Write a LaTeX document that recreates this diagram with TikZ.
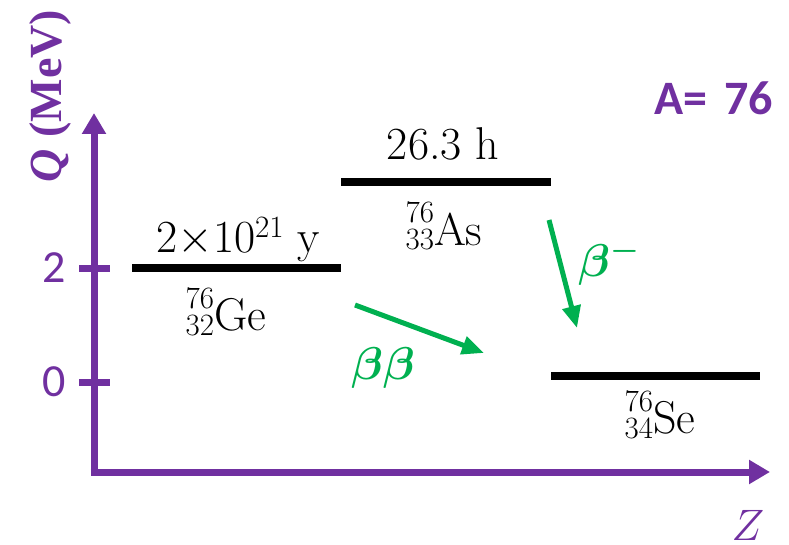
\RequirePackage{fix-cm}
\documentclass[tikz,border=0pt]{standalone}
\usepackage{bm}
\usepackage{fontspec}
\newfontfamily\calibri{Carlito}
\newfontfamily\tnr{Liberation Serif}
\usetikzlibrary{arrows.meta}
\definecolor{vio}{HTML}{7030A0}
\definecolor{grn}{HTML}{00B050}
\newcommand\scr[1]{{\fontsize{31}{31}\selectfont #1}}
\newcommand\isotope[3]{\rlap{\raisebox{22pt}{\scr{#1}}}\raisebox{-5pt}{\scr{#2}}#3}
\begin{document}
\begin{tikzpicture}[x=1pt,y=-1pt,
  axis/.style={vio,line width=7pt,-{Triangle[length=21pt,width=23pt]}},
  tick/.style={vio,line width=7pt},
  level/.style={black,line width=7.5pt},
  decay/.style={grn,line width=5pt,-{Triangle[length=22pt,width=18pt]}},
  lab/.style={inner sep=0pt,font=\fontsize{46}{50}\selectfont},
  ticklab/.style={inner sep=0pt,vio,font=\calibri\fontsize{46}{50}\selectfont},
  greenlab/.style={inner sep=0pt,grn,font=\fontsize{46}{50}\selectfont},
]
\useasboundingbox (0,0) rectangle (789,545);
% axes
\coordinate (O) at (94,472);
\coordinate (ytip) at (94,113);
\coordinate (xtip) at (770,472);
\draw[axis] (90.5,472) -- (xtip);
\draw[axis] (O) -- (ytip);
% ticks
\coordinate (t0a) at (79,382); \coordinate (t0b) at (110,382);
\coordinate (t2a) at (79,268); \coordinate (t2b) at (110,268);
\draw[tick] (t0a) -- (t0b);
\draw[tick] (t2a) -- (t2b);
\node[ticklab] (l0) at (54,382) {0};
\node[ticklab] (l2) at (54,268) {2};
% axis labels
\node[inner sep=0pt,vio,rotate=90,anchor=base,font=\tnr\fontsize{46}{50}\selectfont\bfseries] (qlab) at (61,96) {{\itshape Q} (MeV)};
\node[inner sep=0pt,vio,anchor=center,font=\fontsize{44}{48}\selectfont] (zlab) at (748,525) {$Z$};
\node[inner sep=0pt,vio,anchor=base east,font=\calibri\fontsize{48}{52}\selectfont\bfseries] (alab) at (773,115) {A=\hspace{17pt}76};
% levels
\coordinate (ge1) at (132,268); \coordinate (ge2) at (341,268);
\coordinate (as1) at (341,182); \coordinate (as2) at (551,182);
\coordinate (se1) at (551,376); \coordinate (se2) at (760,376);
\draw[level] (ge1) -- (ge2);
\draw[level] (as1) -- (as2);
\draw[level] (se1) -- (se2);
\node[lab,anchor=base] (gehl) at (238,253) {2${\times}$10\raisebox{16pt}{\scr{21}} y};
\node[lab,anchor=base] (ge) at (226,330) {\isotope{76}{32}{Ge}};
\node[lab,anchor=base] (ashl) at (443,160) {26.3 h};
\node[lab,anchor=base] (as) at (444,245) {\isotope{76}{33}{As}};
\node[lab,anchor=base] (se) at (660,433) {\isotope{76}{34}{Se}};
% decays
\coordinate (bb1) at (355,305); \coordinate (bb2) at (484,353);
\coordinate (b1) at (549,220); \coordinate (b2) at (577,328);
\draw[decay] (bb1) -- (bb2);
\draw[decay] (b1) -- (b2);
\node[greenlab] (bblab) at (383,368) {$\bm{\beta\beta}$};
\node[greenlab,anchor=west] (blab) at (578,262) {$\bm{\beta^{-}}$};
\end{tikzpicture}
\end{document}
